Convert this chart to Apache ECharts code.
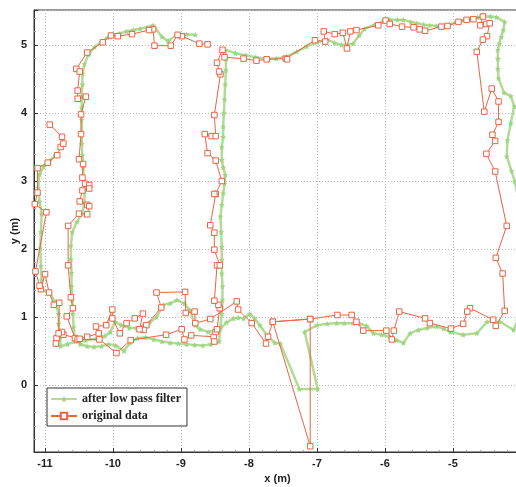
<!DOCTYPE html>
<html>
<head>
<meta charset="utf-8">
<script src="https://cdn.jsdelivr.net/npm/echarts@6/dist/echarts.min.js"></script>
<style>
  html, body { margin: 0; padding: 0; background: #fff; }
  #chart { width: 516px; height: 487px; }
</style>
</head>
<body>
<div id="chart"></div>
<script>
// Trajectory recorded by the tracker (metres), in walking order.
const rawX = [
  -8.61,-8.73,-8.99,-9.05,-9.15,-9.39,-9.41,-9.47,-9.72,-9.93,-10.03,-10.15,-10.38,
  -10.54,-10.49,-10.52,-10.52,-10.40,-10.47,-10.47,-10.50,-10.44,-10.45,-10.41,-10.35,-10.35,-10.45,-10.49,-10.38,-10.35,-10.38,-10.50,-10.66,-10.66,-10.62,-10.59,-10.68,-10.56,
  -10.52,-10.20,-9.95,-9.74,-9.22,-8.99,-8.95,-8.85,-8.52,-8.51,-8.49,-8.47,-8.43,-8.45,-8.51,
  -8.47,-8.43,-8.51,-8.51,-8.57,-8.49,-8.51,-8.40,-8.49,-8.61,-8.65,-8.55,-8.49,-8.51,-8.42,-8.44,-8.47,-8.39,-8.36,
  -8.08,-7.89,-7.74,-7.46,-7.44,-7.03,-6.88,-6.90,-6.74,-6.62,-6.56,-6.51,-6.42,-6.10,-5.99,-5.93,-5.75,-5.58,-5.49,-5.41,-5.17,-5.08,-4.92,-4.80,-4.70,-4.56,-4.60,-4.51,-4.46,-4.50,-4.56,-4.65,
  -4.54,-4.43,-4.33,-4.33,-4.42,-4.38,-4.51,-4.38,-4.21,-4.37,-4.27,-4.24,-4.37,-4.41,-4.75,-4.79,-4.85,-5.03,-5.34,-5.41,-5.79,-5.87,-5.90,-5.98,-6.32,-6.42,-6.49,-6.70,
  -7.10,-7.65,-7.10,-7.10,-7.65,-7.72,-7.75,-7.96,-8.16,-8.18,-8.57,
  -8.79,-8.80,-8.93,-8.94,-9.36,-9.29,-9.51,-9.55,-9.61,-9.56,-9.68,-9.80,-9.90,-10.01,-10.01,-10.10,-10.25,-10.21,-10.38,-10.49,-10.73,-10.75,
  -10.83,-10.84,-10.80,-10.79,-10.87,-10.94,-11.00,-11.06,-11.08,-11.14,-10.98,-11.15,-11.11,-11.11,-10.96,-10.82,-10.77,-10.73,-10.75,-10.93
];
const rawY = [
  5.01,5.02,5.13,5.15,4.99,4.99,5.23,5.22,5.16,5.13,5.14,5.04,4.89,
  4.65,4.61,4.33,4.21,4.24,3.98,3.69,3.32,3.25,3.05,2.96,2.94,2.89,2.86,2.70,2.65,2.63,2.51,2.52,2.34,1.76,1.29,1.13,1.01,0.69,
  0.67,0.67,0.47,0.66,0.74,0.82,0.67,0.73,0.71,0.64,0.78,0.82,1.13,1.18,1.24,
  1.76,1.76,1.99,2.24,2.35,2.81,2.81,3.00,3.30,3.41,3.69,3.66,3.66,3.97,4.57,4.61,4.74,4.93,4.82,
  4.80,4.77,4.79,4.80,4.79,5.07,5.05,5.20,5.16,5.18,4.95,5.20,5.22,5.29,5.36,5.31,5.27,5.26,5.23,5.21,5.27,5.28,5.34,5.37,5.38,5.42,5.29,5.31,5.32,5.13,5.08,4.90,
  4.02,4.36,4.17,3.87,3.68,3.59,3.40,3.14,2.34,1.87,1.64,1.09,0.87,0.96,1.13,1.08,0.90,0.83,0.91,0.98,1.08,0.80,0.67,0.80,0.80,0.93,1.03,1.03,
  0.97,0.93,0.97,-0.90,0.93,0.71,0.61,0.91,1.11,1.23,0.97,
  0.91,1.08,1.06,1.37,1.36,1.14,0.88,0.81,0.82,1.05,0.98,0.91,0.76,0.98,1.11,0.88,0.86,0.76,0.71,0.68,0.74,0.78,
  0.69,0.61,0.76,1.21,1.18,1.36,1.63,1.41,1.46,1.67,2.54,2.66,2.83,3.19,3.27,3.38,3.50,3.55,3.65,3.83
];

// Same trajectory after the low pass filter.
const lpfX = [
  -8.79,-8.92,-9.06,-9.19,-9.28,-9.41,-9.50,-9.60,-9.70,-9.80,-9.90,-9.99,-10.08,-10.17,-10.27,-10.36,-10.42,-10.45,
  -10.45,-10.46,-10.46,-10.46,-10.46,-10.46,-10.45,-10.44,-10.43,-10.42,-10.42,-10.46,-10.53,-10.60,-10.62,-10.62,-10.61,-10.61,-10.60,-10.59,-10.58,-10.56,
  -10.48,-10.38,-10.28,-10.17,-10.07,-9.96,-9.84,-9.75,-9.64,-9.52,-9.40,-9.28,-9.16,-9.04,-8.92,-8.80,-8.68,-8.56,-8.44,
  -8.42,-8.40,-8.39,-8.39,-8.40,-8.40,-8.40,-8.41,-8.42,-8.40,-8.38,-8.36,-8.35,-8.38,-8.40,-8.40,-8.38,-8.38,-8.37,-8.36,-8.35,-8.34,-8.34,-8.35,
  -8.20,-8.05,-7.90,-7.75,-7.60,-7.45,-7.30,-7.15,-7.00,-6.85,-6.74,-6.64,-6.47,-6.38,-6.30,-6.15,-6.02,-5.93,-5.82,-5.73,-5.62,-5.53,-5.43,-5.34,-5.24,-5.14,-5.05,-4.95,-4.84,-4.73,-4.64,-4.55,-4.45,-4.36,-4.24,
  -4.26,-4.29,-4.32,-4.34,-4.34,-4.34,-4.33,-4.25,-4.15,-4.10,-4.15,-4.20,-4.21,-4.14,-4.09,-4.03,-3.98,-3.97,-3.98,-4.02,-4.05,-4.11,
  -4.31,-4.50,-4.65,-4.85,-5.04,-5.14,-5.24,-5.38,-5.51,-5.63,-5.73,-5.83,-5.93,-6.05,-6.17,-6.27,-6.37,-6.47,-6.60,-6.71,-6.85,-7.00,-7.18,
  -6.99,-7.26,-7.54,-7.62,-7.73,-7.84,-7.92,-7.99,-8.08,-8.16,-8.23,-8.33,-8.43,
  -8.60,-8.72,-8.79,-8.87,-8.95,-9.06,-9.16,-9.26,-9.36,-9.46,-9.56,-9.66,-9.76,-9.88,-9.97,-10.04,-10.12,-10.25,-10.40,-10.55,-10.67,-10.77,
  -10.78,-10.80,-10.80,-10.85,-10.93,-11.05,-11.05,-11.06,-11.07,-11.06,-11.05,-11.08,-11.10,-11.08,-11.02,-10.93,-10.85
];
const lpfY = [
  5.15,5.16,5.15,5.06,5.12,5.29,5.26,5.24,5.22,5.20,5.17,5.15,5.11,5.05,4.97,4.86,4.72,4.58,
  4.42,4.25,4.08,3.90,3.72,3.55,3.38,3.20,3.02,2.85,2.68,2.52,2.40,2.25,2.05,1.85,1.65,1.45,1.25,1.05,0.85,0.68,
  0.60,0.57,0.56,0.57,0.60,0.58,0.50,0.62,0.69,0.70,0.67,0.64,0.62,0.61,0.60,0.59,0.58,0.60,0.64,
  0.85,1.05,1.25,1.45,1.64,1.84,2.03,2.25,2.48,2.65,2.82,2.96,3.09,3.20,3.31,3.50,3.65,3.80,4.00,4.20,4.42,4.63,4.80,4.93,
  4.88,4.85,4.82,4.80,4.80,4.83,4.90,4.98,5.04,5.08,5.03,5.00,5.02,5.14,5.24,5.30,5.35,5.37,5.37,5.37,5.34,5.32,5.30,5.29,5.28,5.27,5.30,5.34,5.37,5.39,5.41,5.42,5.42,5.41,5.34,
  5.22,5.12,5.02,4.93,4.80,4.65,4.51,4.30,4.25,4.10,3.85,3.60,3.36,3.15,2.99,2.70,2.40,2.00,1.60,1.25,0.95,0.81,
  0.93,0.93,0.76,0.74,0.78,0.83,0.86,0.84,0.81,0.76,0.62,0.66,0.71,0.74,0.76,0.87,0.90,0.91,0.91,0.91,0.90,0.88,0.78,
  -0.06,-0.06,0.61,0.62,0.72,0.88,0.98,1.05,0.98,0.99,0.98,0.92,0.82,
  0.78,0.82,0.88,1.10,1.20,1.25,1.20,1.18,1.00,0.92,0.87,0.84,0.84,0.88,0.93,0.78,0.72,0.68,0.66,0.64,0.60,0.57,
  0.69,0.90,1.05,1.22,1.35,1.40,1.54,1.75,2.01,2.25,2.52,2.70,2.90,3.10,3.21,3.30,3.38
];

const seriesNames = ['after low pass filter', 'original data'];

const zip = (xs, ys) => xs.map((x, i) => [x, ys[i]]);

const starPath = 'path://M0,-10 L2.6,-3.6 L9.5,-3.1 L4.2,1.4 L5.9,8.1 L0,4.4 L-5.9,8.1 L-4.2,1.4 L-9.5,-3.1 L-2.6,-3.6 Z';

const axisFont = { fontFamily: 'Liberation Sans, Arial, sans-serif', fontWeight: 'bold', fontSize: 11, color: '#222' };

const chart = echarts.init(document.getElementById('chart'), null, { renderer: 'canvas' });
chart.setOption({
  animation: false,
  backgroundColor: '#fff',
  grid: {
    left: 34, right: -5, top: 10, bottom: 35,
    containLabel: false, outerBoundsMode: 'none',
    show: true, borderColor: '#333', borderWidth: 1, backgroundColor: 'transparent'
  },
  legend: {
    orient: 'vertical',
    left: 47, top: 388,
    width: 122,
    padding: [5, 6, 4, 3],
    itemGap: 5,
    itemWidth: 26, itemHeight: 8,
    backgroundColor: '#fff',
    borderColor: '#333', borderWidth: 1, borderRadius: 0,
    textStyle: { fontFamily: 'Liberation Serif, Times New Roman, serif', fontWeight: 'bold', fontSize: 12, color: '#222' },
    data: seriesNames
  },
  xAxis: {
    type: 'value', min: -11.162, max: -4, splitNumber: 7,
    name: 'x (m)', nameLocation: 'middle', nameGap: 21, nameMoveOverlap: false,
    nameTextStyle: axisFont,
    axisLine: { show: true, onZero: false, lineStyle: { color: '#333', width: 1 } },
    axisTick: { show: true, inside: true, length: 4, lineStyle: { color: '#333' } },
    minorTick: { show: true, splitNumber: 5, length: 2, lineStyle: { color: '#999' } },
    axisLabel: Object.assign({ margin: 6, showMinLabel: false, showMaxLabel: true }, axisFont),
    splitLine: { show: true, lineStyle: { color: '#bbb', type: [1, 2], width: 1 } }
  },
  yAxis: {
    type: 'value', min: -0.985, max: 5.515, splitNumber: 7,
    name: 'y (m)', nameLocation: 'middle', nameGap: 14, nameMoveOverlap: false,
    nameTextStyle: axisFont,
    axisLine: { show: true, onZero: false, lineStyle: { color: '#333', width: 1 } },
    axisTick: { show: true, inside: true, length: 4, lineStyle: { color: '#333' } },
    minorTick: { show: true, splitNumber: 5, length: 2, lineStyle: { color: '#999' } },
    axisLabel: Object.assign({ margin: 7, showMinLabel: false, showMaxLabel: false }, axisFont),
    splitLine: { show: true, lineStyle: { color: '#bbb', type: [1, 2], width: 1 } }
  },
  series: [
    {
      name: seriesNames[0],
      type: 'line',
      data: zip(lpfX, lpfY),
      z: 2,
      symbol: starPath,
      symbolSize: 6,
      showAllSymbol: true,
      lineStyle: { color: '#b2dc95', width: 2.5 },
      itemStyle: { color: '#9fd482', borderWidth: 0 },
      emphasis: { disabled: true }
    },
    {
      name: seriesNames[1],
      type: 'line',
      data: zip(rawX, rawY),
      z: 3,
      symbol: 'rect',
      symbolSize: 5.5,
      showAllSymbol: true,
      lineStyle: { color: '#ea6443', width: 1 },
      itemStyle: { color: '#fff', borderColor: '#ea6443', borderWidth: 1 },
      emphasis: { disabled: true }
    }
  ]
});
</script>
</body>
</html>
